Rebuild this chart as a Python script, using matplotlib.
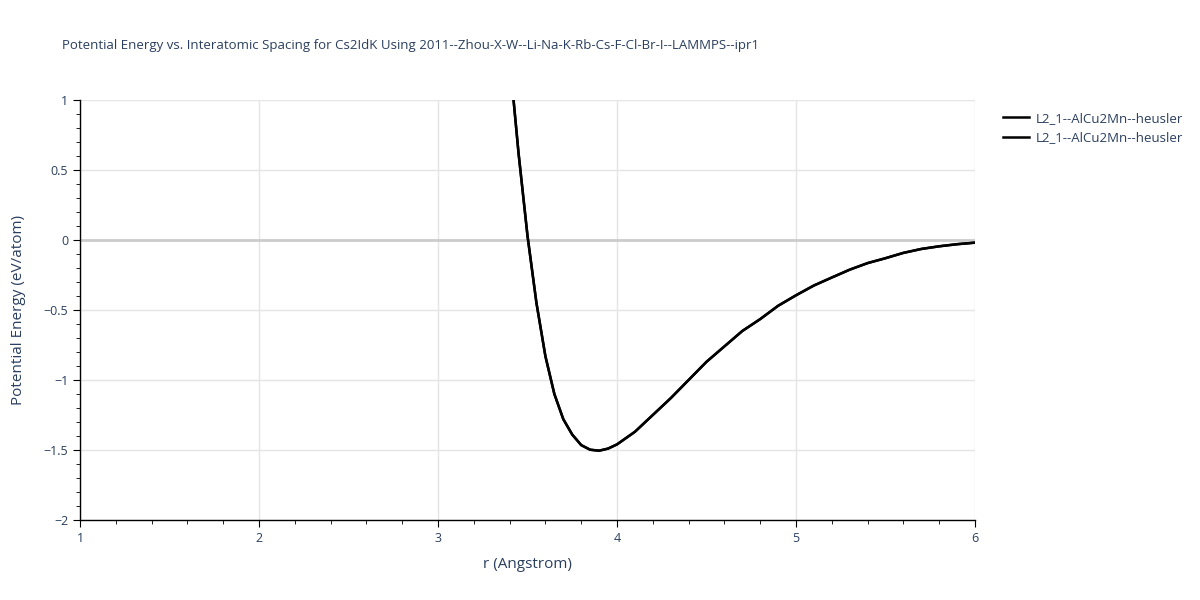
import matplotlib
matplotlib.use("Agg")
import matplotlib.pyplot as plt
from matplotlib.ticker import MultipleLocator

plt.rcParams['font.family'] = ['Open Sans', 'DejaVu Sans']

# r (Angstrom) and energy (eV/atom)
r = [3.40, 3.45, 3.50, 3.55, 3.60, 3.65, 3.70, 3.75, 3.80, 3.85, 3.90, 3.95,
     4.00, 4.10, 4.20, 4.30, 4.40, 4.50, 4.60, 4.70, 4.80, 4.90, 5.00, 5.10,
     5.20, 5.30, 5.40, 5.50, 5.60, 5.70, 5.80, 5.90, 6.00]
energy = [1.30, 0.62, 0.03, -0.45, -0.83, -1.10, -1.28, -1.39, -1.465, -1.498,
          -1.505, -1.49, -1.46, -1.37, -1.25, -1.13, -1.00, -0.87, -0.76,
          -0.65, -0.565, -0.47, -0.395, -0.325, -0.268, -0.212, -0.165,
          -0.13, -0.092, -0.064, -0.045, -0.03, -0.019]

series_names = ["L2_1--AlCu2Mn--heusler", "L2_1--AlCu2Mn--heusler"]
title = "Potential Energy vs. Interatomic Spacing for Cs2IdK Using 2011--Zhou-X-W--Li-Na-K-Rb-Cs-F-Cl-Br-I--LAMMPS--ipr1"

txt = "#2a3f5f"

fig = plt.figure(figsize=(12, 6), dpi=100)
ax = fig.add_axes([80/1200, 80/600, 895/1200, 420/600])

for name in series_names:
    ax.plot(r, energy, color="black", lw=1.8, label=name)

ax.set_xlim(1, 6)
ax.set_ylim(-2, 1)
ax.xaxis.set_major_locator(MultipleLocator(1))
ax.xaxis.set_minor_locator(MultipleLocator(0.2))
ax.yaxis.set_major_locator(MultipleLocator(0.5))
ax.yaxis.set_minor_locator(MultipleLocator(0.1))
ax.grid(True, which="major", color="#e5e5e5", lw=1)
ax.axhline(0, color="#cccccc", lw=2, zorder=1)
ax.set_axisbelow(True)

for s in ["top", "right"]:
    ax.spines[s].set_visible(False)
for s in ["left", "bottom"]:
    ax.spines[s].set_color("black")
    ax.spines[s].set_linewidth(1)

ax.tick_params(which="major", length=5, color="black", labelsize=9, labelcolor=txt)
ax.tick_params(which="minor", length=3, color="black")
ax.yaxis.set_major_formatter(plt.FuncFormatter(lambda v, p: ("%g" % v).replace("-", "\u2212")))

ax.set_xlabel("r (Angstrom)", fontsize=11, color=txt, labelpad=9)
ax.set_ylabel("Potential Energy (eV/atom)", fontsize=11, color=txt, labelpad=13)
fig.text(62/1200, 1 - 45/600, title, fontsize=9.5, color=txt, va="center", ha="left")

ax.legend(loc="upper left", bbox_to_anchor=(1.025, 0.985), frameon=False,
          fontsize=9.5, labelcolor=txt, handlelength=2.0, handletextpad=0.5,
          borderaxespad=0)

fig.savefig("out.png", dpi=100)
